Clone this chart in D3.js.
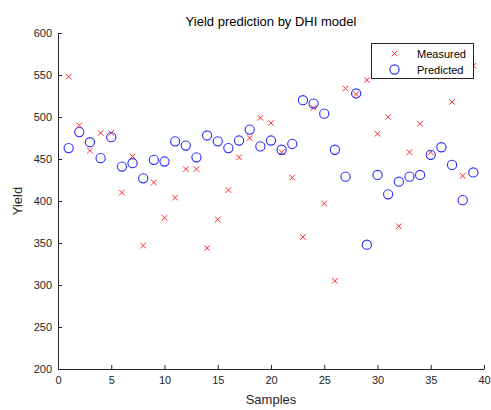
<!DOCTYPE html>
<html>
<head>
<meta charset="utf-8">
<script src="https://cdn.jsdelivr.net/npm/d3@7"></script>
<style>
  html, body { margin: 0; padding: 0; background: #fff; }
  text { font-family: "Liberation Sans", Arial, Helvetica, sans-serif; }
</style>
</head>
<body>
<svg id="chart" width="491" height="410"></svg>
<script>
// Sample index, measured yield and DHI-model predicted yield
const samples = d3.range(1, 40);
const measured = [548, 490, 460, 481, 481, 410, 453, 347, 422, 380,
                  404, 438, 438, 344, 378, 413, 452, 475, 499, 493,
                  458, 428, 357, 511, 397, 305, 534, 527, 544, 480,
                  500, 370, 458, 492, 458, 548, 518, 430, 561];
const predicted = [463, 482, 470, 451, 476, 441, 445, 427, 449, 447,
                   471, 466, 452, 478, 471, 463, 472, 485, 465, 472,
                   461, 468, 520, 516, 504, 461, 429, 528, 348, 431,
                   408, 423, 429, 431, 455, 464, 443, 401, 434];
const xTicks = [0, 5, 10, 15, 20, 25, 30, 35, 40];
const yTicks = [200, 250, 300, 350, 400, 450, 500, 550, 600];
const seriesNames = ["Measured", "Predicted"];

const axisColor = "#262626";
const red = "#ff2a2a";
const blue = "#2a2aff";

const svg = d3.select("#chart");
const margin = { left: 58, right: 484, top: 33, bottom: 369 };

const x = d3.scaleLinear().domain([0, 40]).range([margin.left, margin.right]);
const y = d3.scaleLinear().domain([200, 600]).range([margin.bottom, margin.top]);

// Axes: ticks point inward, no outer tick ends
const xAxis = d3.axisBottom(x).tickValues(xTicks).tickSize(-4).tickSizeOuter(0).tickPadding(7);
const yAxis = d3.axisLeft(y).tickValues(yTicks).tickSize(-4).tickSizeOuter(0).tickPadding(6);

const gx = svg.append("g").attr("transform", `translate(0,${margin.bottom})`).call(xAxis);
const gy = svg.append("g").attr("transform", `translate(${margin.left},0)`).call(yAxis);

[gx, gy].forEach(g => {
  g.select(".domain").attr("stroke", axisColor).attr("stroke-width", 1);
  g.selectAll(".tick line").attr("stroke", axisColor).attr("stroke-width", 1);
  g.selectAll(".tick text").attr("fill", axisColor).style("font-size", "11px")
    .style("font-family", "'Liberation Sans', Arial, sans-serif");
});

// Title and axis labels
svg.append("text").attr("x", (margin.left + margin.right) / 2).attr("y", 26)
  .attr("text-anchor", "middle").attr("fill", "#000").style("font-size", "13px")
  .text("Yield prediction by DHI model");
svg.append("text").attr("x", (margin.left + margin.right) / 2).attr("y", 404)
  .attr("text-anchor", "middle").attr("fill", axisColor).style("font-size", "13px")
  .text("Samples");
svg.append("text")
  .attr("transform", `translate(22,${(margin.top + margin.bottom) / 2}) rotate(-90)`)
  .attr("text-anchor", "middle").attr("fill", axisColor).style("font-size", "13px")
  .text("Yield");

// Marker helpers
const xr = 2.8;
function cross(g, cx, cy) {
  g.append("path")
    .attr("d", `M${cx - xr},${cy - xr}L${cx + xr},${cy + xr}M${cx - xr},${cy + xr}L${cx + xr},${cy - xr}`)
    .attr("stroke", red).attr("stroke-width", 1).attr("fill", "none");
}
function ring(g, cx, cy) {
  g.append("circle").attr("cx", cx).attr("cy", cy).attr("r", 4.6)
    .attr("stroke", blue).attr("stroke-width", 1.1).attr("fill", "none");
}

const marks = svg.append("g");
samples.forEach((s, i) => cross(marks, x(s), y(measured[i])));
samples.forEach((s, i) => ring(marks, x(s), y(predicted[i])));

// Legend
const lg = svg.append("g");
lg.append("rect").attr("x", 371.5).attr("y", 43.5).attr("width", 102).attr("height", 35)
  .attr("fill", "#fff").attr("stroke", axisColor).attr("stroke-width", 1);
cross(lg, 394.5, 53.5);
ring(lg, 394.5, 69.5);
lg.append("text").attr("x", 417).attr("y", 57.5).attr("fill", "#000")
  .style("font-size", "11px").text(seriesNames[0]);
lg.append("text").attr("x", 417).attr("y", 73.5).attr("fill", "#000")
  .style("font-size", "11px").text(seriesNames[1]);
</script>
</body>
</html>
